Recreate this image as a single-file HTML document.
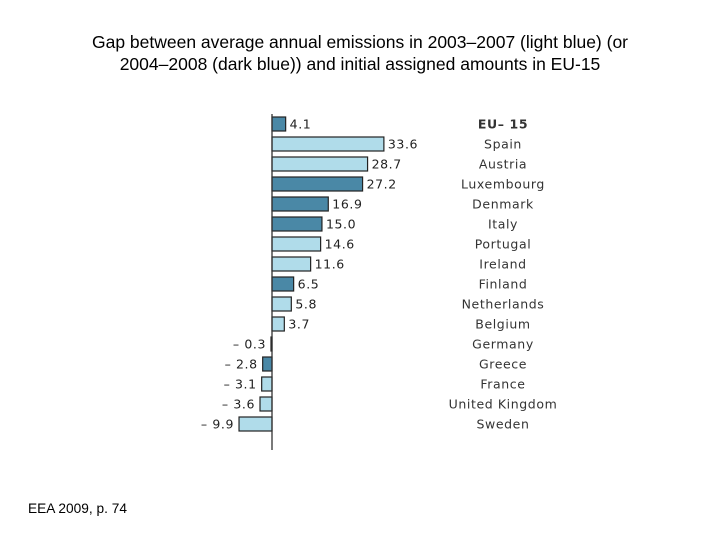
<!DOCTYPE html>
<html><head><meta charset="utf-8"><style>
body{margin:0;background:#fff;width:720px;height:540px;overflow:hidden;font-family:"Liberation Sans",sans-serif}
#title{position:absolute;top:31px;left:0;width:720px;text-align:center;font-size:17.5px;line-height:22px;color:#000}
#src{position:absolute;left:28px;top:501px;font-size:13.7px}
</style></head><body>
<div id="title">Gap between average annual emissions in 2003–2007 (light blue) (or<br>2004–2008 (dark blue)) and initial assigned amounts in EU-15</div>
<svg id="chart" width="720" height="540" style="position:absolute;left:0;top:0"></svg>
<div id="src">EEA 2009, p. 74</div>
<script>
const categories=["EU– 15","Spain","Austria","Luxembourg","Denmark","Italy","Portugal","Ireland","Finland","Netherlands","Belgium","Germany","Greece","France","United Kingdom","Sweden"];
const values=[4.1,33.6,28.7,27.2,16.9,15.0,14.6,11.6,6.5,5.8,3.7,-0.3,-2.8,-3.1,-3.6,-9.9];
const labels=["4.1","33.6","28.7","27.2","16.9","15.0","14.6","11.6","6.5","5.8","3.7","– 0.3","– 2.8","– 3.1","– 3.6","– 9.9"];
const dark=[1,0,0,1,1,1,0,0,1,0,0,1,1,0,0,0];
const NS="http://www.w3.org/2000/svg";
const svg=document.getElementById('chart');
const x0=272,sc=3.33;
const xs=v=>x0+v*sc;
const ys=i=>124+i*20;
function mk(t,a){const e=document.createElementNS(NS,t);for(const k in a)e.setAttribute(k,a[k]);svg.appendChild(e);return e;}
categories.forEach((c,i)=>{
  const v=values[i],y=ys(i);
  const x1=Math.min(xs(0),xs(v)),w=Math.max(Math.abs(xs(v)-xs(0)),1);
  const r=mk('rect',{x:x1,y:y-7,width:w,height:14,fill:dark[i]?'#4a88a6':'#b0dcea',stroke:'#222','stroke-width':1.2});
  
  
  const t=mk('text',{x:v>=0?xs(v)+4:xs(v)-5,y:y+4.5,'text-anchor':v>=0?'start':'end','font-size':12.5,'font-family':'DejaVu Sans, sans-serif',fill:'#222','letter-spacing':'0.6'});
  t.textContent=labels[i];
  
  
  const l=mk('text',{x:503,y:y+4.5,'text-anchor':'middle','font-size':12.5,'font-family':'DejaVu Sans, sans-serif',fill:'#333','font-weight':i===0?'bold':'normal','letter-spacing':'0.6'});
  l.textContent=c;
  
  
});
const ax=mk('line',{x1:x0,y1:114,x2:x0,y2:450,stroke:'#333','stroke-width':1.3});


</script>
</body></html>
